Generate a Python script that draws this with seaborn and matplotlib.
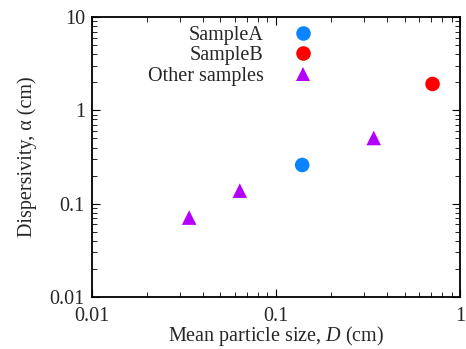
import matplotlib
matplotlib.use("Agg")
import matplotlib.pyplot as plt
import seaborn as sns
import pandas as pd
from matplotlib.ticker import LogLocator, FixedLocator, FixedFormatter, NullFormatter

sns.set_style("ticks")
plt.rcParams['font.family'] = ['Liberation Serif', 'DejaVu Serif']
plt.rcParams['mathtext.fontset'] = 'custom'
plt.rcParams['mathtext.rm'] = 'Liberation Serif'
plt.rcParams['mathtext.it'] = 'Liberation Serif:italic'

groups = ["SampleA", "SampleB", "Other samples", "Other samples", "Other samples"]
particle_size = [0.139, 0.71, 0.0338, 0.0637, 0.34]
dispersivity = [0.26, 1.92, 0.071, 0.138, 0.506]
colors = {"SampleA": "#0a84ff", "SampleB": "#ff0000", "Other samples": "#b400ff"}
markers = {"SampleA": "o", "SampleB": "o", "Other samples": "^"}
x_ticks = [0.01, 0.1, 1]
x_tick_labels = ["0.01", "0.1", "1"]
y_ticks = [0.01, 0.1, 1, 10]
y_tick_labels = ["0.01", "0.1", "1", "10"]

df = pd.DataFrame({"group": groups, "D": particle_size, "alpha": dispersivity})

FS = 14.5
fig = plt.figure(figsize=(4.66, 3.49), dpi=100)
ax = fig.add_axes([0.197, 0.149, 0.79, 0.802])

sns.scatterplot(data=df, x="D", y="alpha", hue="group", style="group",
                palette=colors, markers=markers, s=110, linewidth=0, ax=ax,
                hue_order=["SampleA", "SampleB", "Other samples"],
                style_order=["SampleA", "SampleB", "Other samples"])

ax.set_xscale("log")
ax.set_yscale("log")
ax.set_xlim(0.01, 1)
ax.set_ylim(0.01, 10)
ax.xaxis.set_major_locator(FixedLocator(x_ticks))
ax.xaxis.set_major_formatter(FixedFormatter(x_tick_labels))
ax.yaxis.set_major_locator(FixedLocator(y_ticks))
ax.yaxis.set_major_formatter(FixedFormatter(y_tick_labels))
ax.xaxis.set_minor_locator(LogLocator(base=10, subs=range(2, 10)))
ax.yaxis.set_minor_locator(LogLocator(base=10, subs=range(2, 10)))
ax.xaxis.set_minor_formatter(NullFormatter())
ax.yaxis.set_minor_formatter(NullFormatter())

ax.tick_params(which="both", direction="in", top=True, right=True, labelsize=FS, color="black")
ax.tick_params(which="major", length=6, width=0.8)
ax.tick_params(axis="x", which="major", pad=7)
ax.tick_params(axis="y", which="major", pad=5)
ax.tick_params(which="minor", length=3.5, width=0.6)
for sp in ax.spines.values():
    sp.set_linewidth(1.3)
    sp.set_color("black")

ax.set_xlabel("Mean particle size, $\\mathit{D}$ (cm)", fontsize=FS, labelpad=-1)
ax.set_ylabel("Dispersivity, α (cm)", fontsize=FS, labelpad=9)

leg = ax.legend(loc="upper center", bbox_to_anchor=(0.39, 1.02), frameon=False,
                markerfirst=False, fontsize=FS, handletextpad=0.95,
                labelspacing=0.08, borderaxespad=0.3)
for t in leg.get_texts():
    t.set_ha("right")
leg._legend_box.align = "right"
for h in leg.legend_handles:
    h.set_markersize(10.5)

fig.savefig("out.png", dpi=100)
